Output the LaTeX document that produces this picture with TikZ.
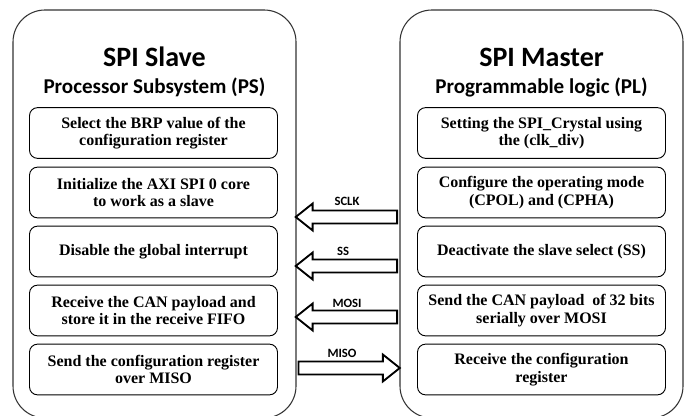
\documentclass[tikz,border=0pt]{standalone}
\usepackage{fontspec}
\setmainfont{Liberation Serif}
\newfontfamily\headfont{Carlito}
\usetikzlibrary{shapes.arrows}
\tikzset{
	outerbox/.style={draw=black!80, line width=0.8pt, rounded corners=24pt, minimum width=212.25pt, minimum height=306pt, inner sep=0pt},
	titletext/.style={font=\headfont\bfseries\fontsize{21}{24}\selectfont},
	subtext/.style={font=\headfont\bfseries\fontsize{15.8}{18}\selectfont},
	stepbox/.style={draw, line width=0.7pt, rounded corners=6pt, minimum width=186pt, minimum height=38pt, inner sep=0pt, align=center, font=\bfseries\fontsize{12}{13}\selectfont},
	fatarrow/.style={draw, line width=1.4pt, single arrow, single arrow head extend=5.2pt, single arrow tip angle=77, minimum height=76pt, minimum width=0pt, inner xsep=0pt, inner ysep=4.2pt},
	siglabel/.style={font=\headfont\bfseries\fontsize{9.5}{11}\selectfont, inner sep=0pt}
}
\begin{document}
\begin{tikzpicture}[x=0.75pt,y=-0.75pt]
	\useasboundingbox (0,0) rectangle (691,416);
	
	%SLAVE SIDE (PS)
	\node[outerbox] (slave) at (154.5,214) {};
	\node[titletext] (slavetitle) at (154.5,57) {SPI Slave};
	\node[subtext] (slavesub) at (154.5,87) {Processor Subsystem (PS)};
	%
	\node[stepbox] (brp) at (153.5,133) {Select the BRP value of the\\configuration register};
	\node[stepbox] (axi) at (153.5,192.5) {Initialize the AXI SPI 0 core\\to work as a slave};
	\node[stepbox] (irq) at (153.5,251.5) {Disable the global interrupt};
	\node[stepbox] (fifo) at (153.5,310.5) {Receive the CAN payload and\\store it in the receive FIFO};
	\node[stepbox] (sendcfg) at (153.5,369.5) {Send the configuration register\\over MISO};
	
	%MASTER SIDE (PL)
	\node[outerbox] (master) at (541.5,214) {};
	\node[titletext] (mastertitle) at (541.5,57) {SPI Master};
	\node[subtext] (mastersub) at (541.5,87) {Programmable logic (PL)};
	%
	\node[stepbox] (crystal) at (541.5,133) {Setting the SPI\_Crystal using\\the (clk\_div)};
	\node[stepbox] (mode) at (541.5,192.5) {Configure the operating mode\\(CPOL) and (CPHA)};
	\node[stepbox] (deact) at (541.5,251.5) {Deactivate the slave select (SS)};
	\node[stepbox] (payload) at (541.5,310.5) {Send the CAN payload\ \ of 32 bits\\serially over MOSI};
	\node[stepbox] (getcfg) at (541.5,369.5) {Receive the configuration\\register};
	
	%SIGNALS
	\node[fatarrow, shape border rotate=180] (sclk) at (350.5,217) {};
	\node[fatarrow, shape border rotate=180] (ss) at (350.5,266) {};
	\node[fatarrow, shape border rotate=180] (mosi) at (350.5,317) {};
	\node[fatarrow] (miso) at (345,368) {};
	%
	\node[siglabel, anchor=base] (sclklabel) at (347,206) {SCLK};
	\node[siglabel, anchor=base] (sslabel) at (343,256) {SS};
	\node[siglabel, anchor=base] (mosilabel) at (347,307) {MOSI};
	\node[siglabel, anchor=base] (misolabel) at (342,357) {MISO};
\end{tikzpicture}
\end{document}
